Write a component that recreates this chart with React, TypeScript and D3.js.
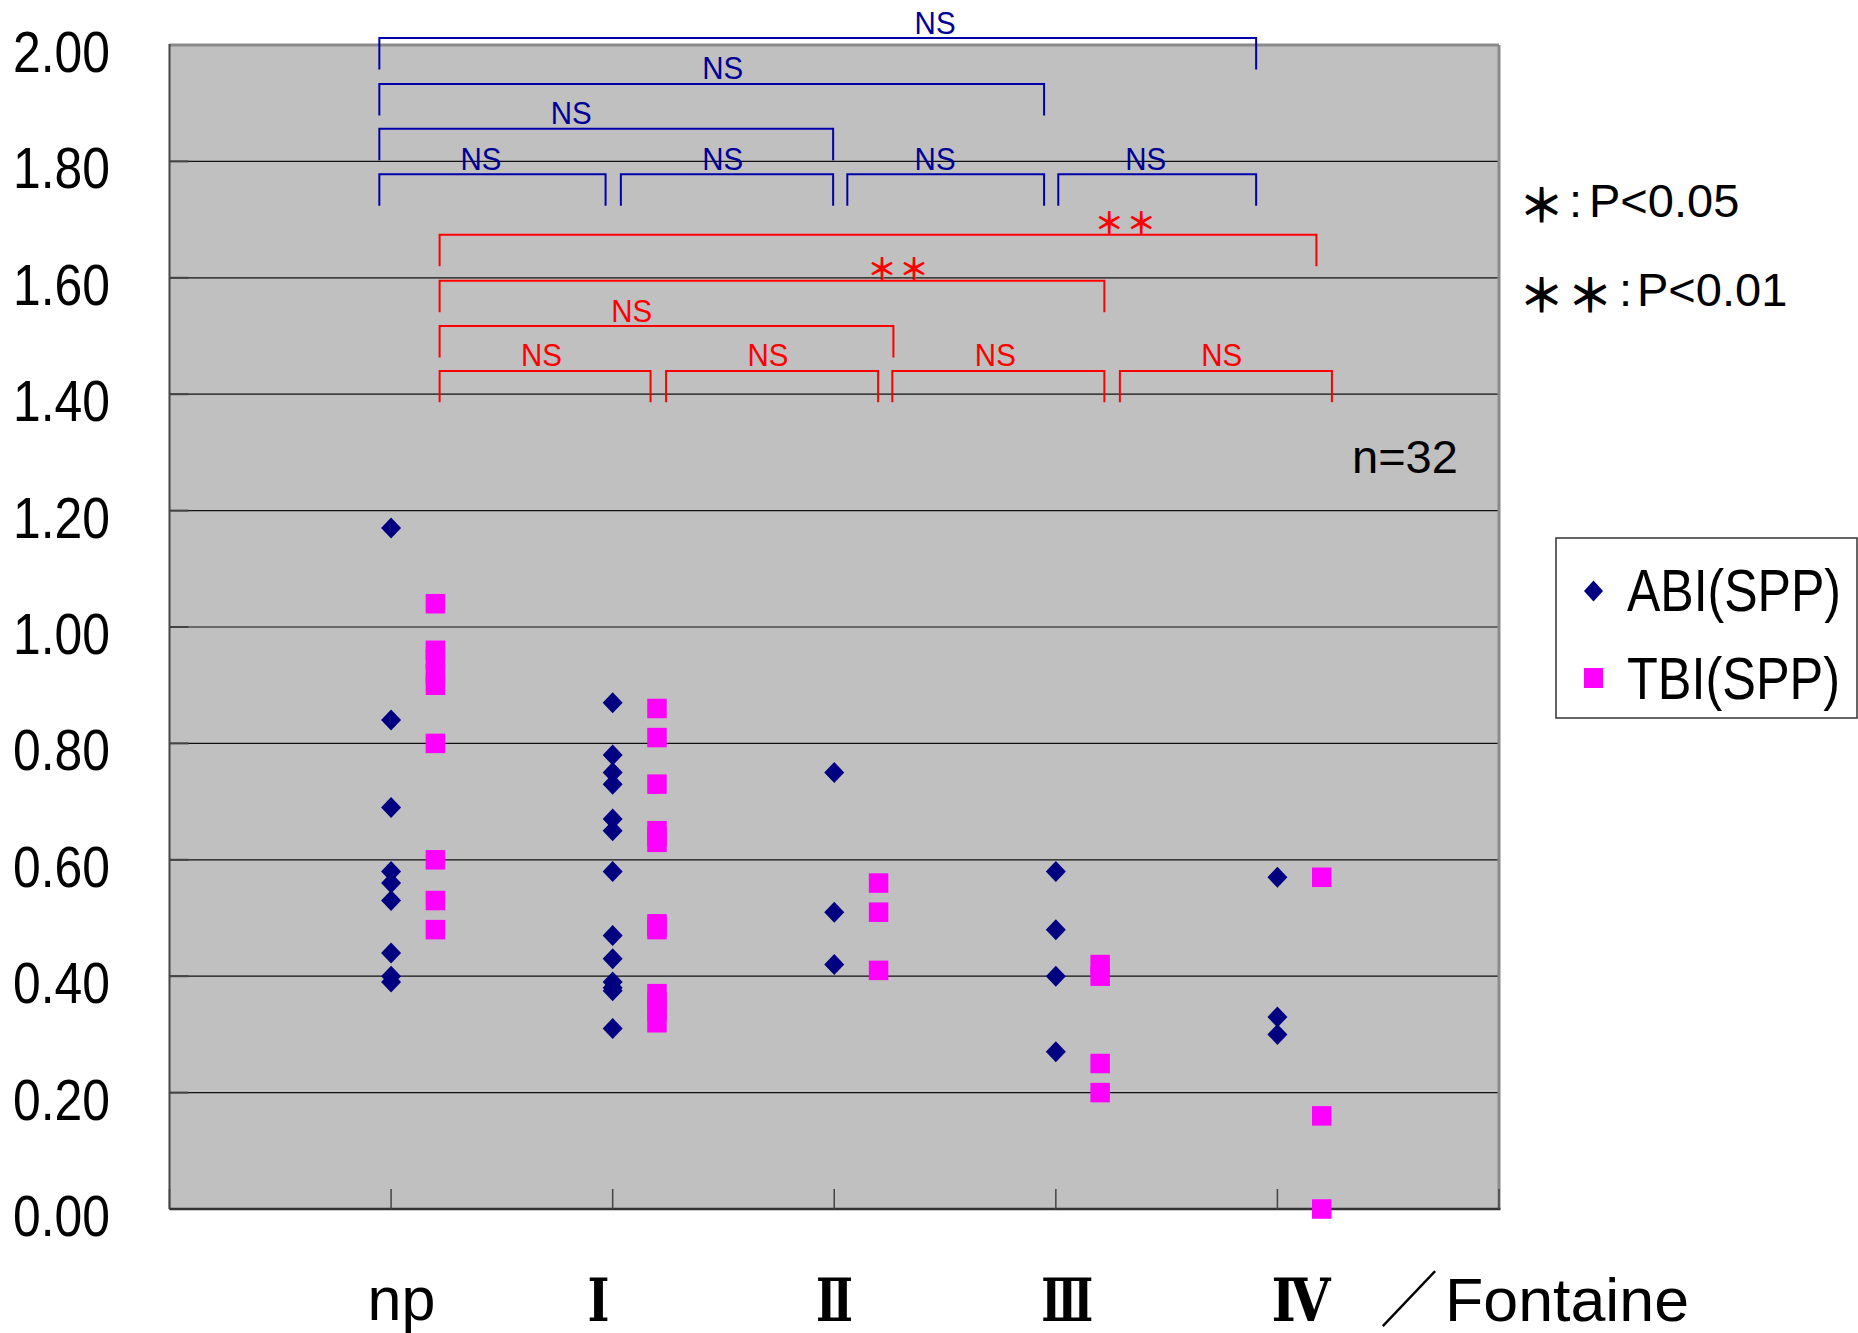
import React from "react";
import * as d3 from "d3";

// ---------- data ----------
const catLabels = ["np", "Ⅰ", "Ⅱ", "Ⅲ", "Ⅳ"];
const catLabelX = [1.047, 1.936, 3.001, 4.052, 5.106];
const catLabelLen = [69, 22, 37, 52, 59];

const abiNp = [1.17, 0.84, 0.69, 0.58, 0.56, 0.53, 0.44, 0.4, 0.39];
const abiI = [0.87, 0.78, 0.75, 0.73, 0.67, 0.65, 0.58, 0.47, 0.43, 0.39, 0.38, 0.375, 0.31];
const abiII = [0.75, 0.51, 0.42];
const abiIII = [0.58, 0.48, 0.4, 0.27];
const abiIV = [0.57, 0.33, 0.3];

const tbiNp = [1.04, 0.96, 0.945, 0.92, 0.9, 0.8, 0.6, 0.53, 0.48];
const tbiI = [0.86, 0.81, 0.73, 0.65, 0.64, 0.63, 0.49, 0.485, 0.48, 0.37, 0.355, 0.34, 0.32];
const tbiII = [0.56, 0.51, 0.41];
const tbiIII = [0.42, 0.4, 0.25, 0.2];
const tbiIV = [0.57, 0.16, 0.0];

const abiValues = [abiNp, abiI, abiII, abiIII, abiIV];
const tbiValues = [tbiNp, tbiI, tbiII, tbiIII, tbiIV];

const yTicks = [0, 0.2, 0.4, 0.6, 0.8, 1.0, 1.2, 1.4, 1.6, 1.8, 2.0];
const xTicks = [0, 1, 2, 3, 4, 5, 6];

// significance brackets (ABI, blue)
const blueSpans = [
  [0.947, 4.904],
  [0.947, 3.947],
  [0.947, 2.995],
  [0.947, 1.968],
  [2.037, 2.995],
  [3.059, 3.947],
  [4.011, 4.904],
];
const blueLevels = [2.012, 1.933, 1.856, 1.778, 1.778, 1.778, 1.778];
const blueLabels = ["NS", "NS", "NS", "NS", "NS", "NS", "NS"];
const blueLabelX = [3.455, 2.497, 1.813, 1.406, 2.497, 3.455, 4.406];

// significance brackets (TBI, red)
const redSpans = [
  [1.219, 5.176],
  [1.219, 4.219],
  [1.219, 3.267],
  [1.219, 2.171],
  [2.241, 3.198],
  [3.262, 4.219],
  [4.289, 5.246],
];
const redLevels = [1.674, 1.595, 1.517, 1.44, 1.44, 1.44, 1.44];
const redLabels = ["＊＊", "＊＊", "NS", "NS", "NS", "NS", "NS"];
const redLabelX = [4.318, 3.292, 2.086, 1.679, 2.701, 3.727, 4.749];

const legendNames = ["ABI(SPP)", "TBI(SPP)"];
const sampleText = "n=32";

// ---------- layout ----------
const W = 1858;
const H = 1333;
const x = d3.scaleLinear().domain([0, 6]).range([169.5, 1499]);
const y = d3.scaleLinear().domain([0, 2]).range([1209, 45]);

const SANS = "'Liberation Sans', Arial, sans-serif";
const CJK = "'Noto Sans CJK JP', 'Noto Sans CJK SC', sans-serif";
const SERIF = "'DejaVu Serif', 'Liberation Serif', serif";

const NAVY = "#000080";
const MAGENTA = "#FF00FF";
const BLUE_LINE = "#0000A8";
const BLUE_TEXT = "#000096";
const RED = "#FF0000";

const diamond = (cx: number, cy: number, hw = 10, hh = 10.5) =>
  `M${cx},${cy - hh}L${cx + hw},${cy}L${cx},${cy + hh}L${cx - hw},${cy}Z`;

const LEG = 0.054;

function Brackets({
  spans,
  levels,
  labels,
  labelX,
  color,
  textColor,
}: {
  spans: number[][];
  levels: number[];
  labels: string[];
  labelX: number[];
  color: string;
  textColor: string;
}) {
  return (
    <g>
      {spans.map((s, i) => {
        const yy = y(levels[i]);
        const yb = y(levels[i] - LEG);
        const x0 = x(s[0]);
        const x1 = x(s[1]);
        const lab = labels[i];
        const isStar = lab !== "NS";
        return (
          <g key={i}>
            <path
              d={`M${x0},${yb}L${x0},${yy}L${x1},${yy}L${x1},${yb}`}
              fill="none"
              stroke={color}
              strokeWidth={2}
            />
            {isStar ? (
              <text
                x={x(labelX[i])}
                y={yy - 14}
                textAnchor="middle"
                dominantBaseline="central"
                fontFamily={CJK}
                fontWeight="bold"
                fontSize={30}
                letterSpacing={2}
                fill={textColor}
              >
                {lab}
              </text>
            ) : (
              <text
                x={x(labelX[i]) - 20.5}
                y={yy - 4.5}
                fontFamily={SANS}
                fontSize={32}
                textLength={41}
                lengthAdjust="spacingAndGlyphs"
                fill={textColor}
              >
                {lab}
              </text>
            )}
          </g>
        );
      })}
    </g>
  );
}

export default function App() {
  const plotL = x(0);
  const plotR = x(6);
  const plotT = y(2);
  const plotB = y(0);

  return (
    <div style={{ position: "absolute", left: 0, top: 0 }}>
      <svg width={W} height={H} xmlns="http://www.w3.org/2000/svg" style={{ display: "block" }}>
        <rect x={0} y={0} width={W} height={H} fill="#ffffff" />
        {/* plot background */}
        <rect x={plotL} y={plotT} width={plotR - plotL} height={plotB - plotT} fill="#C0C0C0" />
        {/* gridlines */}
        {yTicks
          .filter((t) => t > 0 && t < 2)
          .map((t) => (
            <line key={t} x1={plotL} x2={plotR} y1={y(t)} y2={y(t)} stroke="#111" strokeWidth={1.2} />
          ))}
        {/* y ticks (inside) */}
        {yTicks.map((t) => (
          <line key={"yt" + t} x1={plotL} x2={plotL + 19} y1={y(t)} y2={y(t)} stroke="#444" strokeWidth={2} />
        ))}
        {/* border */}
        <line x1={plotL} x2={plotR} y1={plotT} y2={plotT} stroke="#8a8a8a" strokeWidth={3} />
        <line x1={plotR} x2={plotR} y1={plotT} y2={plotB} stroke="#8a8a8a" strokeWidth={3} />
        <line x1={plotL} x2={plotL} y1={plotT - 1} y2={plotB} stroke="#444" strokeWidth={2} />
        <line x1={plotL} x2={plotR + 1.5} y1={plotB} y2={plotB} stroke="#333" strokeWidth={2.5} />
        {/* x ticks (inside) */}
        {xTicks.map((t) => (
          <line key={"xt" + t} x1={x(t)} x2={x(t)} y1={plotB} y2={plotB - 20} stroke="#444" strokeWidth={1.5} />
        ))}

        {/* y tick labels */}
        {yTicks.map((t) => (
          <text
            key={"yl" + t}
            x={13}
            y={y(t) + 27}
            fontFamily={SANS}
            fontSize={58}
            textLength={97}
            lengthAdjust="spacingAndGlyphs"
            fill="#000"
          >
            {d3.format(".2f")(t)}
          </text>
        ))}

        {/* brackets */}
        <Brackets
          spans={blueSpans}
          levels={blueLevels}
          labels={blueLabels}
          labelX={blueLabelX}
          color={BLUE_LINE}
          textColor={BLUE_TEXT}
        />
        <Brackets
          spans={redSpans}
          levels={redLevels}
          labels={redLabels}
          labelX={redLabelX}
          color={RED}
          textColor={RED}
        />

        {/* ABI points */}
        {abiValues.map((vals, gi) =>
          vals.map((v, j) => (
            <path key={`a${gi}-${j}`} d={diamond(x(gi + 1), y(v))} fill={NAVY} />
          ))
        )}
        {/* TBI points */}
        {tbiValues.map((vals, gi) =>
          vals.map((v, j) => (
            <rect
              key={`t${gi}-${j}`}
              x={x(gi + 1.2) - 9.75}
              y={y(v) - 9.75}
              width={19.5}
              height={19.5}
              fill={MAGENTA}
            />
          ))
        )}

        {/* n= */}
        <text x={1352} y={473} fontFamily={SANS} fontSize={47} fill="#000">
          {sampleText}
        </text>

        {/* p-value key */}
        <text y={217} fontFamily={SANS} fontSize={47} fill="#000">
          <tspan x={1541.5} y={202} fontFamily={CJK} fontWeight="bold" fontSize={46} textAnchor="middle" dominantBaseline="central">
            ＊
          </tspan>
          <tspan x={1569} y={217}>:</tspan>
          <tspan x={1589}>P&lt;0.05</tspan>
        </text>
        <text y={306} fontFamily={SANS} fontSize={47} fill="#000">
          <tspan x={1541.5} y={292} fontFamily={CJK} fontWeight="bold" fontSize={46} textAnchor="middle" dominantBaseline="central">
            ＊
          </tspan>
          <tspan x={1590} y={292} fontFamily={CJK} fontWeight="bold" fontSize={46} textAnchor="middle" dominantBaseline="central">
            ＊
          </tspan>
          <tspan x={1619} y={306}>:</tspan>
          <tspan x={1637}>P&lt;0.01</tspan>
        </text>

        {/* legend */}
        <rect x={1556} y={538} width={301} height={180} fill="#fff" stroke="#333" strokeWidth={1.5} />
        <path d={diamond(1593.5, 591, 9.5, 10.5)} fill={NAVY} />
        <rect x={1584} y={668} width={19} height={20} fill={MAGENTA} />
        <text x={1627} y={611} fontFamily={SANS} fontSize={60} textLength={214} lengthAdjust="spacingAndGlyphs" fill="#000">
          {legendNames[0]}
        </text>
        <text x={1627} y={699} fontFamily={SANS} fontSize={60} textLength={213} lengthAdjust="spacingAndGlyphs" fill="#000">
          {legendNames[1]}
        </text>

        {/* category labels */}
        {catLabels.map((c, i) =>
          i === 0 ? (
            <text
              key={c}
              x={x(catLabelX[i])}
              y={1320}
              textAnchor="middle"
              fontFamily={SANS}
              fontSize={61}
              fill="#000"
            >
              {c}
            </text>
          ) : (
            <text
              key={c}
              x={x(catLabelX[i]) - catLabelLen[i] / 2}
              y={1321}
              fontFamily={SERIF}
              fontWeight="bold"
              fontSize={60}
              textLength={catLabelLen[i]}
              lengthAdjust="spacingAndGlyphs"
              fill="#000"
            >
              {c}
            </text>
          )
        )}
        <text x={1380} y={1322} fontFamily={CJK} fontSize={61} textLength={58} lengthAdjust="spacingAndGlyphs" fill="#000">
          ／
        </text>
        <text x={1445} y={1321} fontFamily={SANS} fontSize={61} textLength={244} lengthAdjust="spacingAndGlyphs" fill="#000">
          Fontaine
        </text>
      </svg>
    </div>
  );
}
